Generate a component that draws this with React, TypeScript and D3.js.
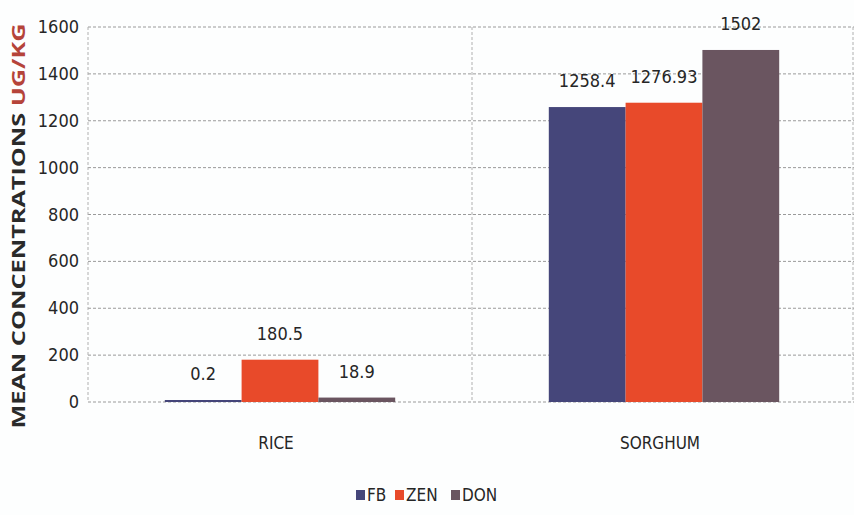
import React, { useLayoutEffect } from "react";
import * as d3 from "d3";

const categories = ["RICE", "SORGHUM"];
const seriesNames = ["FB", "ZEN", "DON"];
const fbValues = [0.2, 1258.4];
const zenValues = [180.5, 1276.93];
const donValues = [18.9, 1502];
const valueLabels = [["0.2", "180.5", "18.9"], ["1258.4", "1276.93", "1502"]];
const yTicks = [0, 200, 400, 600, 800, 1000, 1200, 1400, 1600];
const colors = ["#45467a", "#e84a2a", "#6a5560"];

const W = 854, H = 515;
const FONT = "'DejaVu Sans Condensed', 'Open Sans', sans-serif";

export default function App() {
  useLayoutEffect(() => {
    document.body.style.margin = "0";
  }, []);
  const values = [fbValues, zenValues, donValues];
  const y = d3.scaleLinear().domain([0, 1600]).range([402, 27]);
  const x0 = d3.scaleBand<string>().domain(categories).range([88, 856]).paddingInner(0).paddingOuter(0);
  const x1 = d3.scaleBand<string>().domain(seriesNames).range([0, x0.bandwidth()]).paddingInner(0).paddingOuter(1);

  return (
    <svg width={W} height={H} style={{ display: "block", background: "#fdfefe" }}>
      {yTicks.map((t) => (
        <line key={"g" + t} x1={88} x2={854} y1={y(t)} y2={y(t)} stroke="#9a9a9a" strokeWidth={1} strokeDasharray="3,2" />
      ))}
      {[88, 472, 853].map((vx, i) => (
        <line key={"v" + i} x1={vx} x2={vx} y1={y(1600)} y2={y(0)} stroke="#b0b0b0" strokeWidth={1} strokeDasharray="3,2" />
      ))}
      {categories.map((c, ci) =>
        seriesNames.map((s, si) => {
          const v = values[si][ci];
          const bx = (x0(c) ?? 0) + (x1(s) ?? 0);
          const top = y(v);
          const h = Math.max(y(0) - top, 2);
          return (
            <g key={c + s}>
              <rect x={bx} y={y(0) - h} width={x1.bandwidth()} height={h} fill={colors[si]} />
              <text
                x={bx + x1.bandwidth() / 2}
                y={y(0) - h - 20}
                textAnchor="middle"
                fontFamily={FONT}
                fontSize={18}
                fill="#262626"
              >
                {valueLabels[ci][si]}
              </text>
            </g>
          );
        })
      )}
      {yTicks.map((t) => (
        <text key={"t" + t} x={79} y={y(t) + 6} textAnchor="end" fontFamily={FONT} fontSize={18} fill="#262626">
          {t}
        </text>
      ))}
      {categories.map((c) => (
        <text key={"x" + c} x={(x0(c) ?? 0) + x0.bandwidth() / 2 - 4} y={449} textAnchor="middle" fontFamily={FONT} fontSize={17} fill="#262626">
          {c}
        </text>
      ))}
      <text
        transform={`translate(25, 226) rotate(-90)`}
        textAnchor="middle"
        fontFamily="'Open Sans', 'DejaVu Sans', sans-serif"
        fontWeight="bold"
        fontSize={18}
        fill="#2a2a2a"
        textLength={405}
        lengthAdjust="spacingAndGlyphs"
      >
        MEAN CONCENTRATIONS <tspan fill="#b5443a">UG/KG</tspan>
      </text>
      {seriesNames.map((s, i) => {
        const lx = [356, 395, 451][i];
        return (
          <g key={"l" + s}>
            <rect x={lx} y={490} width={9} height={10} fill={colors[i]} />
            <text x={lx + 11} y={501} fontFamily={FONT} fontSize={17} fill="#262626">
              {s}
            </text>
          </g>
        );
      })}
    </svg>
  );
}
